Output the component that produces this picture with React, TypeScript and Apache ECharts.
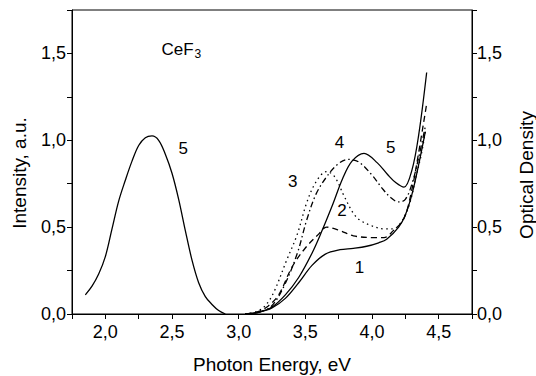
import React, { useEffect, useRef } from "react";
import * as echarts from "echarts";

// Photoluminescence (emission) band, curve 5
const emission5: [number, number][] = [
  [1.85, 0.11], [1.9, 0.16], [1.95, 0.23], [2.0, 0.33], [2.05, 0.49], [2.1, 0.65],
  [2.15, 0.77], [2.2, 0.88], [2.25, 0.97], [2.3, 1.015], [2.35, 1.025], [2.4, 1.0],
  [2.45, 0.92], [2.5, 0.81], [2.55, 0.66], [2.6, 0.48], [2.65, 0.31], [2.7, 0.18],
  [2.75, 0.1], [2.8, 0.055], [2.85, 0.02], [2.9, 0.0],
];

// Optical density curves 1..5
const absorption1: [number, number][] = [
  [3.05, 0], [3.15, 0.01], [3.25, 0.035], [3.35, 0.09], [3.45, 0.18], [3.55, 0.28],
  [3.65, 0.345], [3.76, 0.37], [3.86, 0.378], [3.96, 0.39], [4.05, 0.41], [4.11, 0.43],
  [4.2, 0.5], [4.25, 0.57], [4.3, 0.69], [4.35, 0.86], [4.4, 1.05],
];
const absorption2: [number, number][] = [
  [3.05, 0], [3.15, 0.015], [3.22, 0.045], [3.3, 0.11], [3.4, 0.27], [3.5, 0.38],
  [3.6, 0.46], [3.66, 0.5], [3.76, 0.48], [3.86, 0.45], [4.01, 0.44], [4.09, 0.44],
  [4.16, 0.48], [4.24, 0.55], [4.3, 0.72], [4.35, 0.93], [4.41, 1.21],
];
const absorption3: [number, number][] = [
  [3.05, 0], [3.12, 0.01], [3.19, 0.04], [3.26, 0.12], [3.36, 0.31], [3.44, 0.46],
  [3.51, 0.64], [3.58, 0.76], [3.66, 0.82], [3.72, 0.79], [3.79, 0.68], [3.86, 0.58],
  [3.91, 0.54], [3.99, 0.51], [4.09, 0.49], [4.16, 0.49], [4.22, 0.53], [4.28, 0.63],
  [4.33, 0.79], [4.37, 0.92], [4.4, 1.05],
];
const absorption4: [number, number][] = [
  [3.05, 0], [3.14, 0.01], [3.24, 0.04], [3.34, 0.16], [3.44, 0.35], [3.51, 0.54],
  [3.58, 0.69], [3.66, 0.79], [3.74, 0.86], [3.82, 0.89], [3.9, 0.875], [4.0, 0.8],
  [4.07, 0.73], [4.14, 0.67], [4.2, 0.645], [4.25, 0.66], [4.3, 0.75], [4.35, 0.9],
  [4.4, 1.08],
];
const absorption5: [number, number][] = [
  [3.05, 0], [3.15, 0.01], [3.25, 0.04], [3.35, 0.11], [3.45, 0.21], [3.55, 0.35],
  [3.62, 0.47], [3.7, 0.62], [3.78, 0.78], [3.85, 0.88], [3.94, 0.925], [4.04, 0.87],
  [4.12, 0.8], [4.18, 0.755], [4.24, 0.73], [4.3, 0.83], [4.35, 1.03], [4.41, 1.39],
];

// Curve number annotations: [x, y, text]
const curveLabels: [number, number, string][] = [
  [2.585, 0.95, "5"],
  [3.757, 0.99, "4"],
  [4.14, 0.96, "5"],
  [3.406, 0.765, "3"],
  [3.775, 0.598, "2"],
  [3.906, 0.267, "1"],
];
const sampleLabel: [number, number, string] = [2.57, 1.52, "CeF"];
const sampleSub = "3";

const xTitle = "Photon Energy, eV";
const yLeftTitle = "Intensity, a.u.";
const yRightTitle = "Optical Density";

const FONT = '"Liberation Sans", Arial, sans-serif';

const fmt = (v: number) => {
  const h = v * 2;
  if (Math.abs(h - Math.round(h)) > 1e-6) return "";
  return v.toFixed(1).replace(".", ",");
};

export default function App() {
  const ref = useRef<HTMLDivElement>(null);
  useEffect(() => {
    if (!ref.current) return;
    const chart = echarts.init(ref.current, undefined, { renderer: "svg" });
    const lineBase = (data: [number, number][], type: any, width = 1.3) => ({
      type: "line",
      data,
      showSymbol: false,
      symbol: "none",
      smooth: 0.35,
      lineStyle: { color: "#000", width, type },
      z: 3,
    });
    const axisLabel = { color: "#000", fontSize: 18, fontFamily: FONT, formatter: fmt };
    const titleGraphics = [
      {
        type: "text",
        x: 19,
        y: 173,
        rotation: Math.PI / 2,
        style: {
          text: yLeftTitle,
          font: `19px ${FONT}`,
          fill: "#000",
          align: "center",
          verticalAlign: "middle",
        },
      },
      {
        type: "text",
        x: 526,
        y: 175,
        rotation: Math.PI / 2,
        style: {
          text: yRightTitle,
          font: `19px ${FONT}`,
          fill: "#000",
          align: "center",
          verticalAlign: "middle",
        },
      },
    ];
    chart.setOption({
      animation: false,
      backgroundColor: "#fff",
      grid: {
        left: 72,
        right: 64,
        top: 10,
        bottom: 62,
        show: true,
        borderColor: "#000",
        borderWidth: 1,
        containLabel: false,
        outerBoundsMode: "none",
      },
      xAxis: {
        type: "value",
        min: 1.75,
        max: 4.75,
        interval: 0.25,
        axisLine: { show: true, lineStyle: { color: "#000", width: 1 } },
        axisTick: { show: true, length: 5, lineStyle: { color: "#000" } },
        axisLabel: { ...axisLabel, margin: 9, showMinLabel: true, showMaxLabel: true },
        splitLine: { show: false },
        name: xTitle,
        nameLocation: "middle",
        nameGap: 41,
        nameTextStyle: { color: "#000", fontSize: 19, fontFamily: FONT },
      },
      yAxis: [
        {
          type: "value",
          min: 0,
          max: 1.75,
          interval: 0.25,
          position: "left",
          axisLine: { show: true, lineStyle: { color: "#000", width: 1 } },
          axisTick: { show: true, length: 5, lineStyle: { color: "#000" } },
          axisLabel: { ...axisLabel, margin: 6 },
          splitLine: { show: false },
        },
        {
          type: "value",
          min: 0,
          max: 1.75,
          interval: 0.25,
          position: "right",
          axisLine: { show: true, lineStyle: { color: "#000", width: 1 } },
          axisTick: { show: true, length: 5, lineStyle: { color: "#000" } },
          axisLabel: { ...axisLabel, margin: 5 },
          splitLine: { show: false },
        },
      ],
      series: [
        lineBase(emission5, "solid"),
        lineBase(absorption1, "solid"),
        lineBase(absorption2, [6, 4]),
        lineBase(absorption3, [1.5, 3.5]),
        lineBase(absorption4, [6, 3, 1.5, 3]),
        lineBase(absorption5, "solid"),
      ],
      graphic: titleGraphics,
    });

    // Annotations placed through the chart's own scales
    const annot: any[] = curveLabels.map(([x, y, t]) => {
      const [px, py] = chart.convertToPixel({ gridIndex: 0 }, [x, y]) as number[];
      return {
        type: "text",
        x: px,
        y: py,
        z: 10,
        style: {
          text: t,
          font: `17px ${FONT}`,
          fill: "#000",
          align: "center",
          verticalAlign: "middle",
        },
      };
    });
    const [sx, sy] = chart.convertToPixel({ gridIndex: 0 }, [sampleLabel[0], sampleLabel[1]]) as number[];
    annot.push({
      type: "text",
      x: sx,
      y: sy,
      z: 10,
      style: {
        text: `{a|${sampleLabel[2]}}{b|${sampleSub}}`,
        align: "center",
        verticalAlign: "middle",
        rich: {
          a: { fill: "#000", fontSize: 17, fontFamily: FONT },
          b: { fill: "#000", fontSize: 12, fontFamily: FONT, padding: [9, 0, 0, 1] },
        },
      },
    });
    chart.setOption({ graphic: [...titleGraphics, ...annot] });
    return () => chart.dispose();
  }, []);
  return (
    <div
      ref={ref}
      style={{ position: "fixed", left: 0, top: 0, width: 536, height: 376, background: "#fff" }}
    />
  );
}
